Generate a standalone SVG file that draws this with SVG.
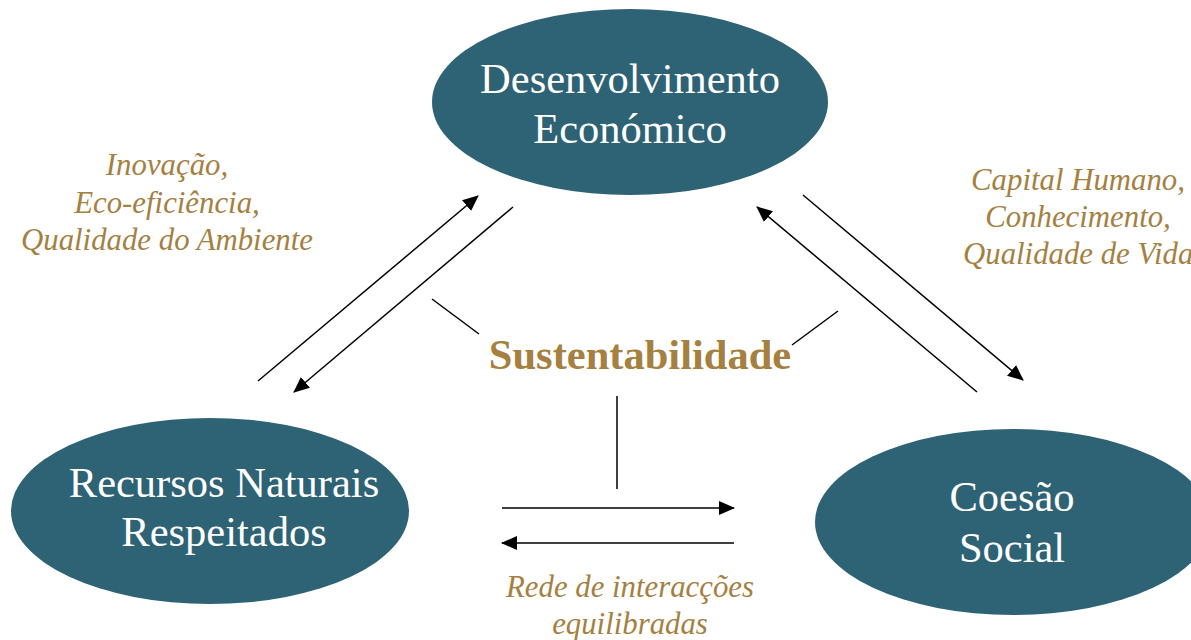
<svg xmlns="http://www.w3.org/2000/svg" width="1191" height="640" viewBox="0 0 1191 640">
<style>
.node{fill:#2E6275}
.nt{font-family:"Liberation Serif",serif;font-size:42.5px;fill:#ffffff;text-anchor:middle}
.lbl{font-family:"Liberation Serif",serif;font-size:30.8px;font-style:italic;fill:#A5803F;text-anchor:middle}
.title{font-family:"Liberation Serif",serif;font-size:42.5px;font-weight:bold;fill:#A5803F;text-anchor:middle}
.ln{stroke:#000;stroke-width:1.5;fill:none}
</style>
<defs>
<marker id="ah" markerUnits="userSpaceOnUse" markerWidth="16" markerHeight="14" refX="15" refY="7" orient="auto">
<path d="M0,0 L16,7 L0,14 Z" fill="#000"/>
</marker>
</defs>
<rect width="1191" height="640" fill="#ffffff"/>
<g id="node-economico">
<ellipse class="node" cx="630" cy="102" rx="198" ry="93"/>
<text class="nt" x="630" y="93">Desenvolvimento</text>
<text class="nt" x="630" y="143">Económico</text>
</g>
<g id="node-recursos">
<ellipse class="node" cx="210" cy="511" rx="199" ry="93"/>
<text class="nt" x="224" y="497">Recursos Naturais</text>
<text class="nt" x="224" y="546">Respeitados</text>
</g>
<g id="node-coesao">
<ellipse class="node" cx="1013" cy="522" rx="198" ry="93"/>
<text class="nt" x="1012" y="511">Coesão</text>
<text class="nt" x="1012" y="562">Social</text>
</g>
<g id="connectors">
<line class="ln" x1="258" y1="381" x2="478" y2="196" marker-end="url(#ah)"/>
<line class="ln" x1="513" y1="207" x2="294" y2="392" marker-end="url(#ah)"/>
<line class="ln" x1="432" y1="299" x2="479" y2="334"/>
<line class="ln" x1="803" y1="195" x2="1023" y2="380" marker-end="url(#ah)"/>
<line class="ln" x1="977" y1="392" x2="757" y2="207" marker-end="url(#ah)"/>
<line class="ln" x1="838" y1="311" x2="792" y2="345"/>
<line class="ln" x1="617" y1="396" x2="617" y2="489"/>
<line class="ln" x1="502" y1="508" x2="734" y2="508" marker-end="url(#ah)"/>
<line class="ln" x1="734" y1="543" x2="502" y2="543" marker-end="url(#ah)"/>
</g>
<g id="labels">
<text class="title" x="640" y="369">Sustentabilidade</text>
<text class="lbl" x="167" y="175">Inovação,</text>
<text class="lbl" x="167" y="213">Eco-eficiência,</text>
<text class="lbl" x="167" y="250">Qualidade do Ambiente</text>
<text class="lbl" x="1078" y="190">Capital Humano,</text>
<text class="lbl" x="1078" y="227">Conhecimento,</text>
<text class="lbl" x="963" y="264" style="text-anchor:start">Qualidade de Vida</text>
<text class="lbl" x="630" y="597">Rede de interacções</text>
<text class="lbl" x="630" y="634">equilibradas</text>
</g>
</svg>
